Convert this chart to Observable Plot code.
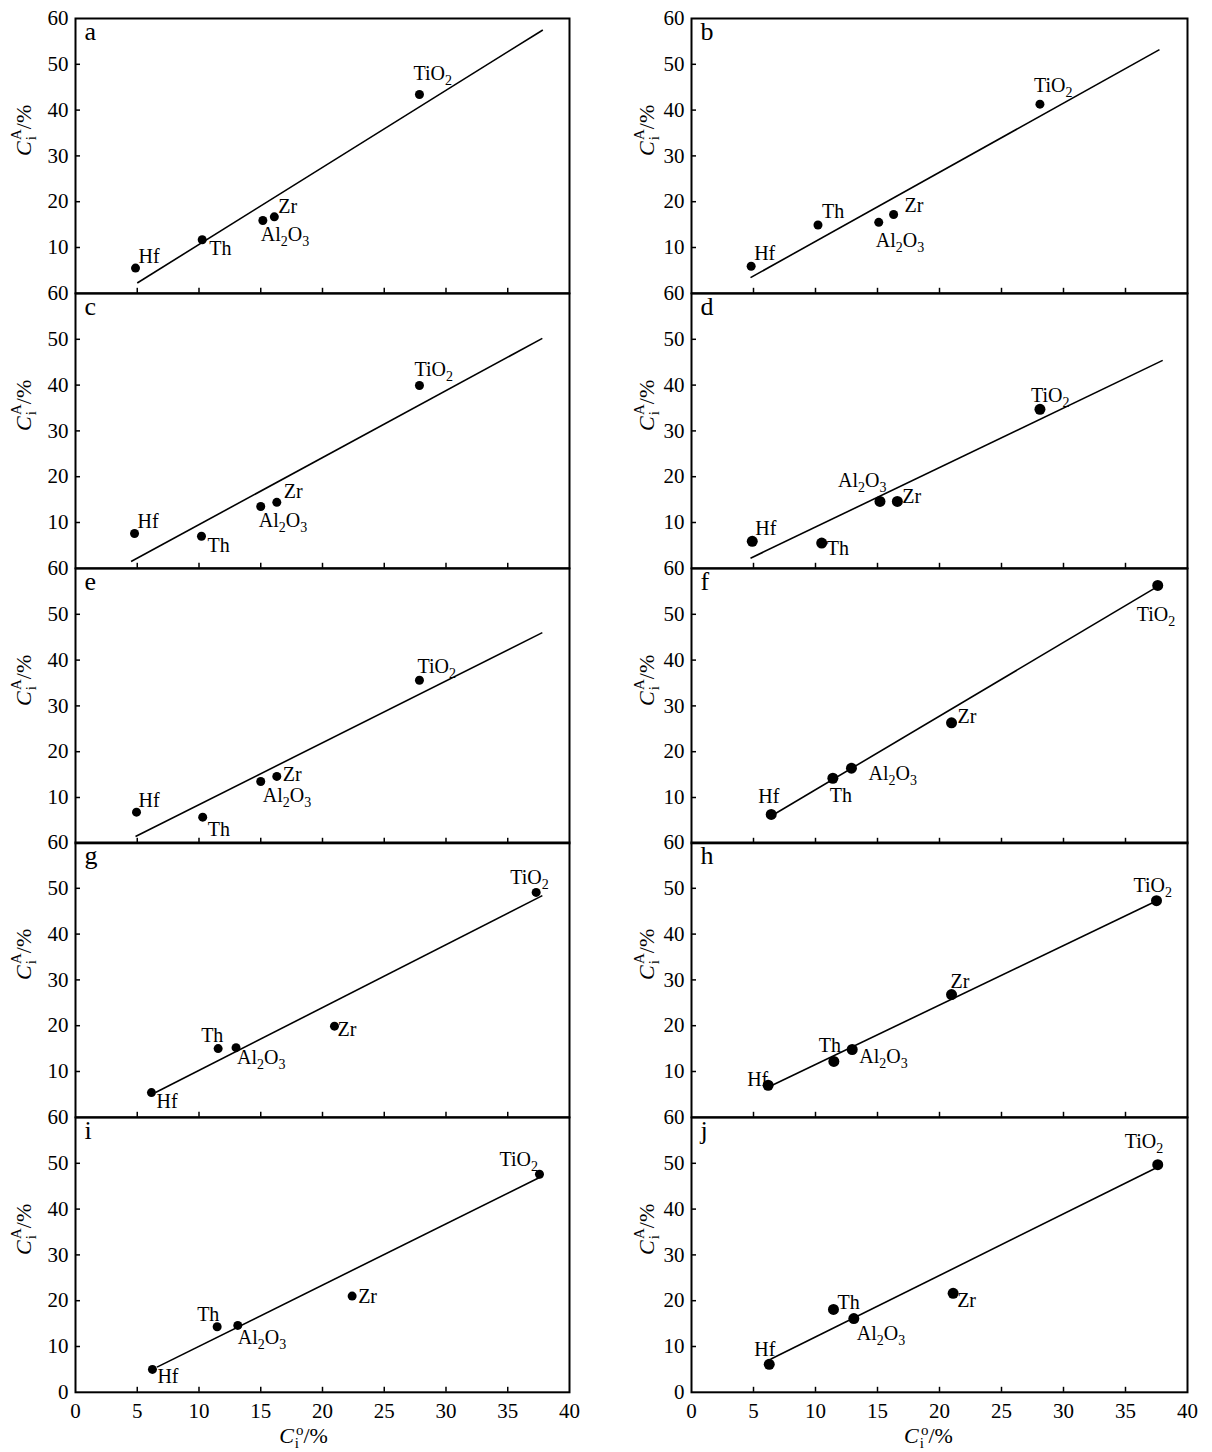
<!DOCTYPE html>
<html><head><meta charset="utf-8">
<script src="https://cdn.jsdelivr.net/npm/d3@7"></script>
<script src="https://cdn.jsdelivr.net/npm/@observablehq/plot@0.6"></script>
<style>
body{margin:0;background:#fff;}
#chart{position:relative;width:1212px;height:1452px;background:#fff;overflow:hidden;}
#chart svg{position:absolute;overflow:visible;}
</style>
</head><body><div id="chart"></div>
<script>
// ---------------- data ----------------
const panels = ["a","b","c","d","e","f","g","h","i","j"];
const elements = ["Hf","Th","Al2O3","Zr","TiO2"];
// C_i^o (%) per panel, in the order of `elements`
const ciO = [
  [4.86, 10.26, 15.17, 16.1, 27.85],
  [4.81, 10.2, 15.1, 16.3, 28.1],
  [4.78, 10.2, 15.0, 16.3, 27.85],
  [4.9, 10.5, 15.2, 16.6, 28.1],
  [4.94, 10.3, 15.0, 16.3, 27.85],
  [6.43, 11.4, 12.9, 20.97, 37.6],
  [6.15, 11.55, 13.0, 20.97, 37.3],
  [6.18, 11.48, 12.96, 20.97, 37.5],
  [6.23, 11.47, 13.14, 22.4, 37.57],
  [6.27, 11.45, 13.09, 21.1, 37.6]
];
// C_i^A (%) per panel
const ciA = [
  [5.5, 11.7, 15.9, 16.7, 43.4],
  [5.9, 14.9, 15.5, 17.2, 41.3],
  [7.6, 7.0, 13.5, 14.4, 39.9],
  [5.9, 5.5, 14.6, 14.6, 34.7],
  [6.8, 5.7, 13.5, 14.6, 35.6],
  [6.3, 14.2, 16.4, 26.3, 56.3],
  [5.4, 15.0, 15.2, 19.9, 49.1],
  [7.0, 12.2, 14.8, 26.8, 47.3],
  [5.0, 14.3, 14.6, 21.0, 47.6],
  [6.1, 18.1, 16.1, 21.6, 49.7]
];
// fitted line end points per panel
const fitX1 = [5.0, 4.76, 4.5, 4.76, 4.86, 6.77, 6.48, 6.13, 6.6, 6.37];
const fitY1 = [2.25, 3.42, 1.5, 2.2, 1.5, 6.5, 5.4, 6.5, 5.5, 7.2];
const fitX2 = [37.84, 37.74, 37.8, 38.0, 37.8, 37.3, 37.8, 37.4, 37.65, 37.7];
const fitY2 = [57.5, 53.2, 50.2, 45.4, 46.0, 55.6, 48.4, 47.1, 47.0, 49.3];
// tick values
const xTickLabels = [0, 5, 10, 15, 20, 25, 30, 35, 40];
const xTickMarks = [5, 10, 15, 20, 25, 30, 35];
const yTickLabels = [10, 20, 30, 40, 50, 60];
const yTickLabelsBottom = [0, 10, 20, 30, 40, 50, 60];
const yTickMarks = [10, 20, 30, 40, 50];

// ---------------- layout (label offsets in px: [dx, dy]) ----------------
const labelOffsets = [
  [[3,-12],[7,9],[-2,14],[4,-10],[-6,-21]],
  [[3,-13],[4,-13],[-3,18],[11,-9],[-6,-19]],
  [[3,-12],[6,9],[-2,14],[7,-11],[-5,-16]],
  [[3,-13],[5,5],[-42,-21],[5,-5],[-9,-14]],
  [[2,-12],[5,12],[2,14],[6,-2],[-2,-14]],
  [[-13,-18],[-3,17],[17,5],[6,-6],[-21,29]],
  [[5,9],[-17,-13],[1,10],[3,3],[-26,-15]],
  [[-21,-6],[-15,-16],[7,7],[-1,-13],[-23,-15]],
  [[5,7],[-20,-12],[0,12],[6,0],[-40,-15]],
  [[-15,-15],[4,-7],[3,15],[4,7],[-33,-23]]
];
const dotR = [4.5, 4.5, 4.5, 5.5, 4.5, 5.5, 4.5, 5.5, 4.5, 5.5];

const FONT = "'Liberation Serif','Times New Roman',Times,serif";
const W = 606, ROW0 = 18, ROWH = 274.8, MT = 22;
const cols = [{left: 0, ml: 75, mr: 37}, {left: 606, ml: 85, mr: 25}];

// rich text specs: s = vertical shift (px, + down), fs = font size, it = italic
const rich = {
  "Al2O3": [{t:"Al"},{t:"2",s:5,fs:14},{t:"O"},{t:"3",s:5,fs:14}],
  "TiO2": [{t:"TiO"},{t:"2",s:5,fs:14}],
  "YLABEL": [{t:"C",it:true},{t:"i",s:5,fs:15,dx:1},{t:"A",s:-10,fs:15,dx:-4},{t:"/%"}],
  "XLABEL": [{t:"C",it:true},{t:"i",s:5,fs:15,dx:1},{t:"o",s:-8,fs:15,dx:-3},{t:"/%"}]
};
const NS = "http://www.w3.org/2000/svg";
function applyRich(svg) {
  svg.querySelectorAll("text").forEach(t => {
    const spec = rich[t.textContent];
    if (!spec) return;
    t.textContent = "";
    let cur = 0;
    for (const p of spec) {
      const ts = document.createElementNS(NS, "tspan");
      const target = p.s || 0;
      if (target - cur !== 0) ts.setAttribute("dy", target - cur);
      cur = target;
      if (p.dx) ts.setAttribute("dx", p.dx);
      if (p.fs) ts.setAttribute("font-size", p.fs);
      if (p.it) ts.setAttribute("font-style", "italic");
      ts.textContent = p.t;
      t.appendChild(ts);
    }
  });
}

const chart = document.getElementById("chart");
panels.forEach((name, k) => {
  const col = cols[k % 2];
  const row = Math.floor(k / 2);
  const bottom = row === 4;
  const mb = bottom ? 62 : 4;
  const plotW = W - col.ml - col.mr;
  const idx = d3.range(elements.length);
  const marks = [
    Plot.tickX(xTickMarks, {x: d => d, insetTop: ROWH - 5, stroke: "black", strokeWidth: 1.5}),
    Plot.tickY(yTickMarks, {y: d => d, insetRight: plotW - 5, stroke: "black", strokeWidth: 1.5}),
    Plot.axisY(bottom ? yTickLabelsBottom : yTickLabels, {tickSize: 0, tickPadding: 7, fontSize: 21, label: null}),
    Plot.link([k], {x1: d => fitX1[d], y1: d => fitY1[d], x2: d => fitX2[d], y2: d => fitY2[d], stroke: "black", strokeWidth: 1.6}),
    Plot.dot(idx, {x: d => ciO[k][d], y: d => ciA[k][d], r: dotR[k], fill: "black", stroke: "none"}),
    ...idx.map(i => Plot.text([i], {
      x: d => ciO[k][d], y: d => ciA[k][d], text: d => elements[d],
      textAnchor: "start", dx: labelOffsets[k][i][0], dy: labelOffsets[k][i][1], fontSize: 20, fill: "black"
    })),
    Plot.text([name], {frameAnchor: "top-left", text: d => d, dx: 9, dy: 3, fontSize: 26, lineAnchor: "top", fill: "black"}),
    Plot.text(["YLABEL"], {frameAnchor: "left", text: d => d, rotate: -90, dx: k % 2 ? -45 : -52, fontSize: 22, fill: "black"}),
    Plot.frame({stroke: "black", strokeWidth: 2})
  ];
  if (bottom) {
    marks.push(Plot.axisX(xTickLabels, {tickSize: 0, tickPadding: 11, fontSize: 21, label: null}));
    marks.push(Plot.text(["XLABEL"], {frameAnchor: "bottom", text: d => d, dx: k % 2 ? -11 : -19, dy: 51, fontSize: 22, fill: "black"}));
  }
  const svg = Plot.plot({
    width: W,
    height: MT + ROWH + mb,
    marginLeft: col.ml, marginRight: col.mr, marginTop: MT, marginBottom: mb,
    x: bottom ? {domain: [0, 40]} : {domain: [0, 40], axis: null},
    y: {domain: [0, 60]},
    style: {fontFamily: FONT, fontSize: "20px", background: "transparent", color: "black", overflow: "visible"},
    marks
  });
  applyRich(svg);
  svg.style.left = col.left + "px";
  svg.style.top = (ROW0 + row * ROWH - MT) + "px";
  chart.appendChild(svg);
});
</script></body></html>
